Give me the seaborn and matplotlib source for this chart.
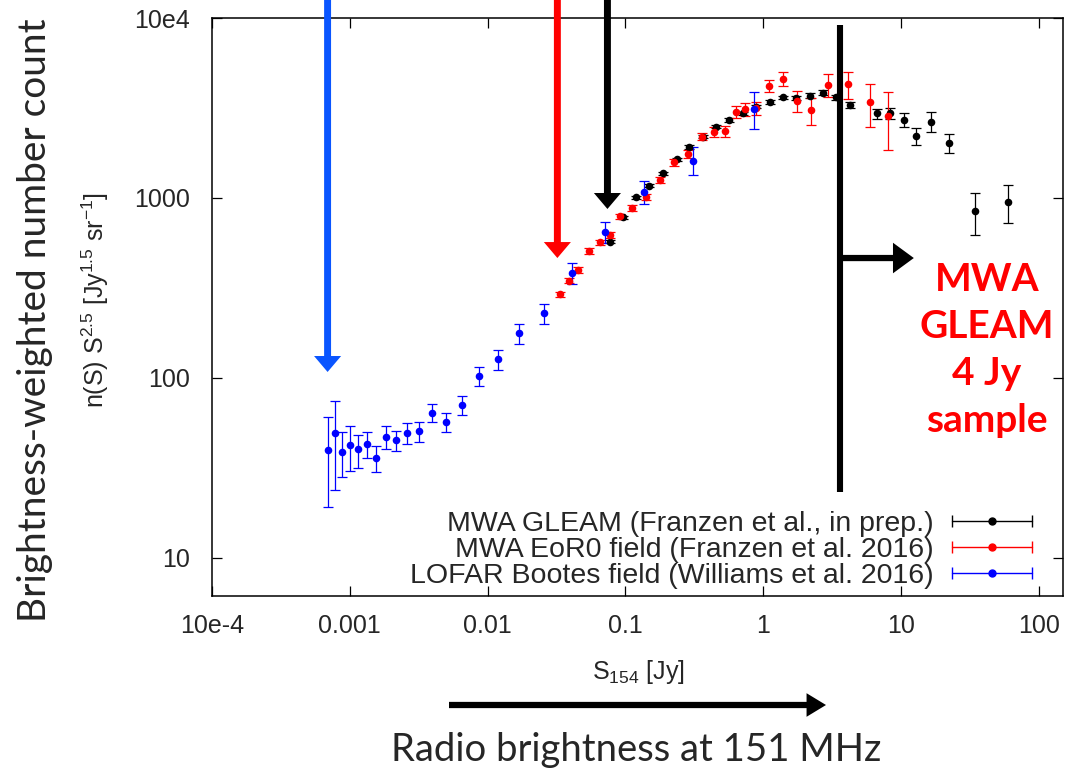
import matplotlib
matplotlib.use("Agg")
import matplotlib.pyplot as plt
import seaborn as sns
import numpy as np
from matplotlib.lines import Line2D
from matplotlib.legend_handler import HandlerLine2D, HandlerTuple

# MWA GLEAM (Franzen et al., in prep.) - black
gleamFlux = [0.0774, 0.0957, 0.119, 0.149, 0.188, 0.2355, 0.291, 0.363, 0.454,
             0.568, 0.713, 0.893, 1.12, 1.40, 1.74, 2.18, 2.72, 3.36, 4.25,
             6.70, 8.28, 10.45, 12.9, 16.6, 22.3, 34.4, 59.6]
gleamCount = [572, 781, 1009, 1170, 1371, 1641, 1919, 2192, 2489,
              2712, 2954, 3217, 3415, 3625, 3594, 3700, 3848, 3625, 3286,
              2954, 2954, 2712, 2210, 2654, 2029, 847, 954]
gleamLow = [560, 765, 988, 1146, 1343, 1607, 1880, 2147, 2438,
            2656, 2893, 3151, 3345, 3550, 3520, 3590, 3735, 3500, 3150,
            2758, 2735, 2471, 1962, 2317, 1785, 625, 723]
gleamHigh = [584, 797, 1030, 1194, 1399, 1675, 1958, 2237, 2540,
             2768, 3015, 3283, 3485, 3700, 3668, 3810, 3965, 3750, 3427,
             3121, 3150, 2954, 2459, 2991, 2277, 1066, 1185]

# MWA EoR0 field (Franzen et al. 2016) - red
eorFlux = [0.0333, 0.0388, 0.0456, 0.0548, 0.0652, 0.0774, 0.0920, 0.112, 0.141,
           0.1795, 0.224, 0.2825, 0.360, 0.4365, 0.525, 0.630, 0.733, 0.893,
           1.11, 1.40, 1.77, 2.22, 2.97, 4.15, 5.93, 8.09]
eorCount = [292, 347, 398, 509, 567, 622, 790, 883, 1012,
            1259, 1579, 1754, 2192, 2327, 2357, 3005, 3121, 3150,
            4188, 4581, 3472, 3084, 4244, 4279, 3400, 2855]
eorLow = [282, 335, 384, 491, 547, 600, 762, 852, 976,
          1215, 1515, 1670, 2100, 2175, 2195, 2770, 2865, 2880,
          3860, 4200, 3000, 2560, 3630, 3535, 2489, 1848]
eorHigh = [302, 359, 412, 527, 587, 644, 818, 914, 1048,
           1303, 1643, 1840, 2285, 2480, 2520, 3245, 3380, 3420,
           4520, 4980, 3950, 3610, 4860, 5031, 4315, 3882]

# LOFAR Bootes field (Williams et al. 2016) - blue
lofarFlux = [0.000697, 0.000783, 0.000885, 0.001005, 0.001156, 0.001327, 0.001553,
             0.001824, 0.002169, 0.00262, 0.0032, 0.00397, 0.00502, 0.00649,
             0.0086, 0.01189, 0.0170, 0.0255, 0.0408, 0.0708, 0.1375, 0.310, 0.851]
lofarCount = [39.8, 49.3, 39.0, 42.4, 40.2, 43.0, 36.1,
              47.2, 45.1, 49.7, 50.6, 63.9, 56.7, 70.8,
              102.6, 127, 177, 228.5, 382, 644, 1076, 1611, 3112]
lofarLow = [19.3, 23.9, 28.1, 30.5, 31.7, 35.8, 29.9,
            40.3, 39.2, 43.0, 44.3, 56.7, 50.1, 62.2,
            90, 110.8, 155, 198.8, 333, 560, 924, 1337, 2416]
lofarHigh = [60.5, 74.5, 49.9, 54.3, 48.4, 50.3, 42.1,
             54.1, 51.0, 56.2, 57.2, 71.9, 64.1, 79.7,
             115.5, 143, 199.5, 258.8, 437, 735, 1250, 1914, 3866]

seriesNames = ["MWA GLEAM (Franzen et al., in prep.)",
               "MWA EoR0 field (Franzen et al. 2016)",
               "LOFAR Bootes field (Williams et al. 2016)"]
seriesColors = ["#000000", "#ff0000", "#0000ff"]

xTicks = [1e-4, 1e-3, 1e-2, 0.1, 1, 10, 100]
xTickLabels = ["10e-4", "0.001", "0.01", "0.1", "1", "10", "100"]
yTicks = [10, 100, 1000, 10000]
yTickLabels = ["10", "100", "1000", "10e4"]

# annotation positions (flux in Jy, count units)
lofarDepth, lofarTip = 0.00069, 108
eorDepth, eorTip = 0.0321, 464
gleamDepth, gleamTip = 0.0741, 869
sampleCut, cutTop, cutBottom = 3.6, 9140, 23.3
sampleArrowY, sampleArrowEnd = 464, 12.4

sns.set_style("ticks")
plt.rcParams["font.family"] = ["Liberation Sans", "DejaVu Sans"]
plt.rcParams["mathtext.default"] = "regular"

fig = plt.figure(figsize=(10.68, 7.70), dpi=100)
ax = fig.add_axes([212 / 1068, 1 - 596 / 770, 851 / 1068, 578 / 770])

for name, flux, count, low, high in [
    (seriesNames[0], gleamFlux, gleamCount, gleamLow, gleamHigh),
    (seriesNames[1], eorFlux, eorCount, eorLow, eorHigh),
    (seriesNames[2], lofarFlux, lofarCount, lofarLow, lofarHigh),
]:
    color = seriesColors[seriesNames.index(name)]
    c = np.array(count, dtype=float)
    yerr = [c - np.array(low), np.array(high) - c]
    ax.errorbar(flux, c, yerr=yerr, fmt="none", ecolor=color, elinewidth=0.9,
                capsize=3.6, capthick=0.9, zorder=2)
    sns.scatterplot(x=flux, y=count, color=color, s=30, linewidth=0,
                    ax=ax, zorder=3, legend=False)

ax.set_xscale("log")
ax.set_yscale("log")
ax.set_xlim(1e-4, 150)
ax.set_ylim(6.15, 1e4)
ax.set_xticks(xTicks)
ax.set_xticklabels(xTickLabels)
ax.set_yticks(yTicks)
ax.set_yticklabels(yTickLabels)
ax.minorticks_off()
ax.tick_params(axis="both", which="major", direction="in", length=7, width=0.9,
               labelsize=18, top=True, right=True, color="black")
ax.tick_params(axis="x", pad=13)
ax.tick_params(axis="y", pad=16)
for sp in ax.spines.values():
    sp.set_color("black")
    sp.set_linewidth(1.1)

# legend with gnuplot-like horizontal error bar samples
handles = []
handlerMap = {tuple: HandlerTuple(ndivide=1, pad=0)}
for color in seriesColors:
    bar = Line2D([], [], color=color, lw=1.0, marker="|", markersize=8,
                 markeredgewidth=1.0)
    dot = Line2D([], [], color=color, ls="none", marker="o", markersize=5)
    handlerMap[bar] = HandlerLine2D(numpoints=2, marker_pad=0)
    handlerMap[dot] = HandlerLine2D(numpoints=1)
    handles.append((bar, dot))
ax.legend(handles, seriesNames, handler_map=handlerMap, loc="lower right",
          bbox_to_anchor=(0.9636, 0.012), frameon=False, markerfirst=False,
          fontsize=20.5, labelspacing=0.0, handlelength=2.8, handletextpad=0.64,
          borderpad=0, borderaxespad=0)


def downArrow(x, tip, color):
    ax.annotate("", xy=(x, tip), xycoords="data",
                xytext=(x, 1.0), textcoords=("data", "figure fraction"),
                arrowprops=dict(arrowstyle="simple,head_width=1.95,head_length=1.15,tail_width=0.5",
                                mutation_scale=10, color=color, lw=0,
                                shrinkA=0, shrinkB=0),
                annotation_clip=False, zorder=5)


downArrow(lofarDepth, lofarTip, "#0a55ff")
downArrow(eorDepth, eorTip, "#ff0000")
downArrow(gleamDepth, gleamTip, "#000000")

# 4 Jy sample cut
ax.plot([sampleCut, sampleCut], [cutBottom, cutTop], color="black", lw=4.4,
        solid_capstyle="butt", clip_on=False, zorder=5)
ax.annotate("", xy=(sampleArrowEnd, sampleArrowY), xytext=(sampleCut, sampleArrowY),
            arrowprops=dict(arrowstyle="simple,head_width=2.2,head_length=1.5,tail_width=0.45",
                            mutation_scale=10, color="black", lw=0,
                            shrinkA=0, shrinkB=0),
            annotation_clip=False, zorder=5)

fig.text(987 / 1068, 1 - 350 / 770, "MWA\nGLEAM\n4 Jy\nsample", color="#ff0000",
         family=["Lato", "DejaVu Sans"], fontweight="bold", fontsize=28,
         ha="center", va="center", multialignment="center", linespacing=1.42)

# axis titles
fig.text(35 / 1068, 1 - 320 / 770, "Brightness-weighted number count",
         family=["Lato", "DejaVu Sans"], fontsize=28, rotation=90,
         ha="center", va="center")
fig.text(95 / 1068, 1 - 300 / 770, "n(S) S$^{2.5}$ [Jy$^{1.5}$ sr$^{-1}$]",
         fontsize=18, rotation=90, ha="center", va="center")
fig.text(638 / 1068, 1 - 672 / 770, "S$_{154}$ [Jy]", fontsize=18,
         ha="center", va="center")

# bottom arrow and caption
fig.patches.append(matplotlib.patches.FancyArrowPatch(
    (449 / 1068, 1 - 705 / 770), (826 / 1068, 1 - 705 / 770),
    transform=fig.transFigure, arrowstyle="simple,head_width=1.7,head_length=1.4,tail_width=0.45",
    mutation_scale=10, color="black", lw=0, shrinkA=0, shrinkB=0))
fig.text(636 / 1068, 1 - 750 / 770, "Radio brightness at 151 MHz",
         family=["Lato", "DejaVu Sans"], fontsize=27.5, ha="center", va="center")

fig.savefig("out.png", dpi=100)
